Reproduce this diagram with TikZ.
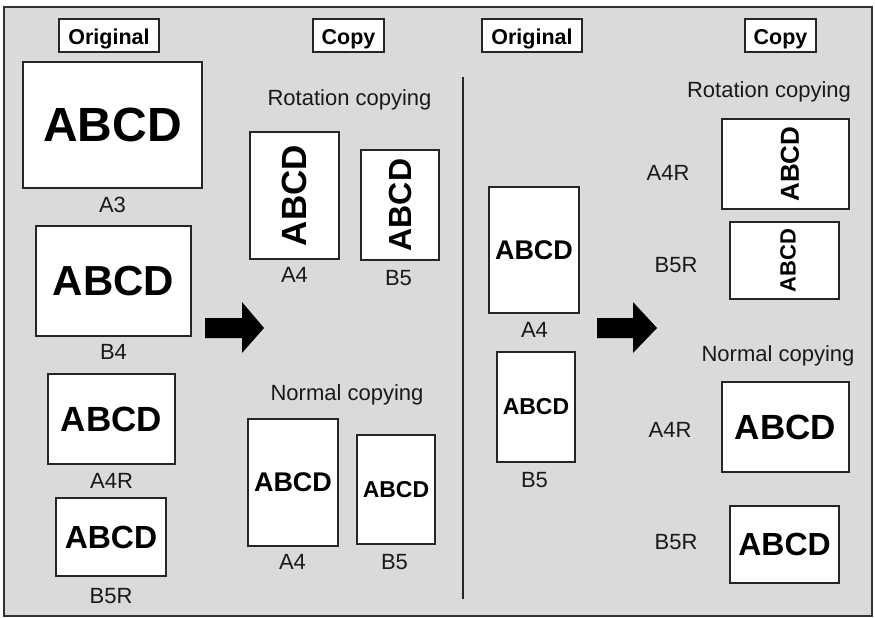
\documentclass[tikz,border=0pt]{standalone}
\usepackage{fontspec}
\setmainfont{Liberation Sans}
\usepackage{graphicx}
\definecolor{bggray}{RGB}{218,218,218}
\newcommand{\fsz}[1]{\fontsize{#1}{#1}\selectfont}
\tikzset{
  paper/.style={draw=black!85, line width=1.4pt, fill=white, inner sep=0pt},
  hdrbox/.style={draw=black!85, line width=1.4pt, fill=white, inner sep=0pt, minimum height=33pt},
  hdrtext/.style={font=\fsz{21.5}\bfseries, anchor=base, inner sep=0pt},
  lbl/.style={font=\fsz{22}, anchor=base, inner sep=0pt, text=black!90},
  bigarrow/.style={fill=black, draw=none}
}
\begin{document}
\begin{tikzpicture}[x=1pt,y=-1pt]
\useasboundingbox (0,0) rectangle (875,618);
\draw[line width=1.8pt, draw=black!80, fill=bggray] (4,7) rectangle (872,616);
% divider
\draw[line width=1.5pt, draw=black!85] (463,77) coordinate (dtop) -- (463,599) coordinate (dbot);
% headers
\node[hdrbox, minimum width=100pt] (h1) at (109,35.5) {};
\node[hdrtext] (h1t) at (109,45) {Original};
\node[hdrbox, minimum width=71pt] (h2) at (348.5,35.5) {};
\node[hdrtext] (h2t) at (348.5,45) {Copy};
\node[hdrbox, minimum width=100pt] (h3) at (532,35.5) {};
\node[hdrtext] (h3t) at (532,45) {Original};
\node[hdrbox, minimum width=71pt] (h4) at (780.5,35.5) {};
\node[hdrtext] (h4t) at (780.5,45) {Copy};
% left originals
\node[paper, minimum width=179pt, minimum height=126pt, font=\fsz{48}\bfseries] (oA3) at (112.5,125) {ABCD};
\node[lbl] (loA3) at (112.5,212) {A3};
\node[paper, minimum width=155pt, minimum height=110pt, font=\fsz{42}\bfseries] (oB4) at (113.5,281) {ABCD};
\node[lbl] (loB4) at (113.5,359) {B4};
\node[paper, minimum width=127pt, minimum height=90pt, font=\fsz{35}\bfseries] (oA4R) at (111.5,419) {ABCD};
\node[lbl] (loA4R) at (111.5,488) {A4R};
\node[paper, minimum width=110pt, minimum height=78pt, font=\fsz{32}\bfseries] (oB5R) at (111,537) {ABCD};
\node[lbl] (loB5R) at (111,603) {B5R};
% left arrow
\fill[bigarrow] (205,318) -- (242,318) -- (242,302) -- (264,328) -- (242,353) -- (242,338) -- (205,338) -- cycle;
% left copies: rotation
\node[lbl] (rcL) at (349.5,105) {Rotation copying};
\node[paper, minimum width=89pt, minimum height=127pt, font=\fsz{35}\bfseries] (cA4r) at (294.5,195.5) {\rotatebox{90}{ABCD}};
\node[lbl] (lcA4r) at (294.5,282) {A4};
\node[paper, minimum width=78pt, minimum height=110pt, font=\fsz{32}\bfseries] (cB5r) at (400,205) {\rotatebox{90}{ABCD}};
\node[lbl] (lcB5r) at (398.5,285) {B5};
% left copies: normal
\node[lbl] (ncL) at (347,400) {Normal copying};
\node[paper, minimum width=90pt, minimum height=127pt, font=\fsz{27}\bfseries] (cA4n) at (293,482.5) {ABCD};
\node[lbl] (lcA4n) at (292.5,569) {A4};
\node[paper, minimum width=78pt, minimum height=109pt, font=\fsz{23}\bfseries] (cB5n) at (396,489.5) {ABCD};
\node[lbl] (lcB5n) at (394.5,569) {B5};
% right originals
\node[paper, minimum width=90pt, minimum height=126pt, font=\fsz{27}\bfseries] (oA4) at (534,250) {ABCD};
\node[lbl] (loA4) at (534.5,337) {A4};
\node[paper, minimum width=78pt, minimum height=110pt, font=\fsz{23}\bfseries] (oB5) at (536,407) {ABCD};
\node[lbl] (loB5) at (534.5,487) {B5};
% right arrow
\fill[bigarrow] (597,318) -- (633,318) -- (633,302) -- (657,328) -- (633,353) -- (633,338) -- (597,338) -- cycle;
% right copies: rotation
\node[lbl] (rcR) at (769,97) {Rotation copying};
\node[paper, minimum width=127pt, minimum height=90pt] (rA4R) at (785.5,164) {};
\node[font=\fsz{26}\bfseries, rotate=90, inner sep=0pt] (rA4Rt) at ([xshift=4.5pt]rA4R.center) {ABCD};
\node[lbl] (lrA4R) at (668,180) {A4R};
\node[paper, minimum width=109pt, minimum height=77pt] (rB5R) at (784.5,260.5) {};
\node[font=\fsz{22}\bfseries, rotate=90, inner sep=0pt] (rB5Rt) at ([xshift=3.5pt]rB5R.center) {ABCD};
\node[lbl] (lrB5R) at (676,272) {B5R};
% right copies: normal
\node[lbl] (ncR) at (778,361) {Normal copying};
\node[paper, minimum width=127pt, minimum height=90pt, font=\fsz{35}\bfseries] (nA4R) at (785.5,427) {ABCD};
\node[lbl] (lnA4R) at (670,437) {A4R};
\node[paper, minimum width=109pt, minimum height=77pt, font=\fsz{32}\bfseries] (nB5R) at (784.5,544.5) {ABCD};
\node[lbl] (lnB5R) at (676,549) {B5R};
\end{tikzpicture}
\end{document}
